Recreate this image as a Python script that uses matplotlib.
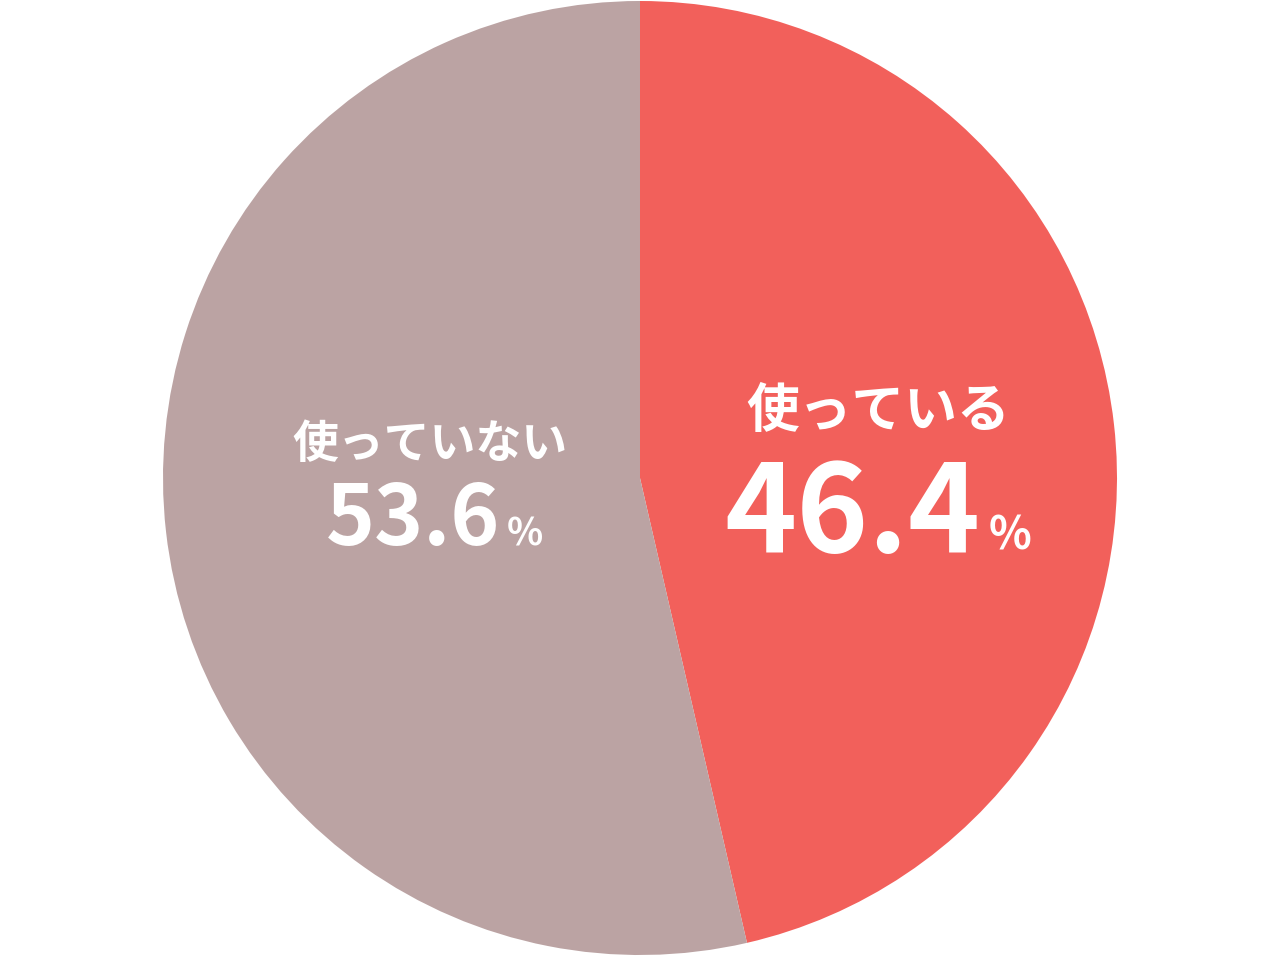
import matplotlib
matplotlib.use("Agg")
import matplotlib.pyplot as plt

labels = ["使っている", "使っていない"]
values = [46.4, 53.6]
colors = ["#F2605B", "#BBA3A3"]

plt.rcParams['font.family'] = ['Noto Sans CJK JP', 'DejaVu Sans']

W, H = 1280, 956
R = 477
fig = plt.figure(figsize=(W / 100, H / 100), dpi=100)
ax = fig.add_axes([0, 0, 1, 1])
ax.pie(values, colors=colors, startangle=90, counterclock=False, radius=1,
       wedgeprops=dict(linewidth=0))
ax.set_xlim(-640 / R, 640 / R)
ax.set_ylim(-478 / R, 478 / R)
ax.set_aspect('equal')
ax.axis('off')


def px(x, y):
    return (x - 640) / R, (478 - y) / R


# right slice
ax.text(*px(878, 411), labels[0], ha='center', va='center', color='white',
        fontsize=38, fontweight='bold')
ax.text(*px(980, 552), f"{values[0]:.1f}", ha='right', va='baseline',
        color='white', fontsize=88, fontweight='bold')
ax.text(*px(989, 550), "%", ha='left', va='baseline', color='white',
        fontsize=32, fontweight='bold')

# left slice
ax.text(*px(430, 445), labels[1], ha='center', va='center', color='white',
        fontsize=33, fontweight='bold')
ax.text(*px(500, 545), f"{values[1]:.1f}", ha='right', va='baseline',
        color='white', fontsize=60, fontweight='bold')
ax.text(*px(507, 545), "%", ha='left', va='baseline', color='white',
        fontsize=27, fontweight='bold')

fig.savefig("out.png", dpi=100, facecolor='white')
